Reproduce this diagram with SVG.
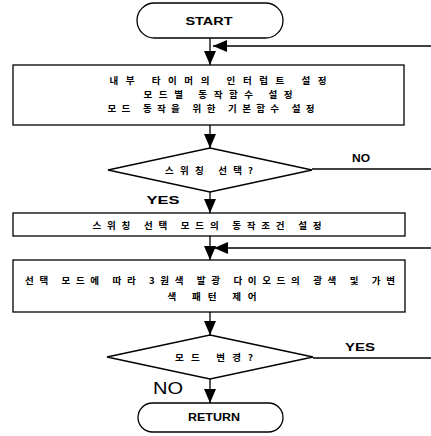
<svg xmlns="http://www.w3.org/2000/svg" width="431" height="436" viewBox="0 0 431 436">
<style>
.s{fill:#fff;stroke:#000;stroke-width:1.3}
.c{fill:none;stroke:#000;stroke-width:1.3}
.k{font-family:"Noto Sans CJK KR","Noto Sans",sans-serif;font-weight:bold;font-size:9.5px;fill:#000;text-anchor:middle;dominant-baseline:central}
.e{font-family:"Liberation Sans",Arial,sans-serif;font-weight:bold;font-size:10px;fill:#000;text-anchor:middle;dominant-baseline:central}
.n{font-family:"Liberation Sans",Arial,sans-serif;font-size:16px;fill:#000;text-anchor:middle;dominant-baseline:central}
</style>
<defs>
<marker id="ah" markerUnits="userSpaceOnUse" markerWidth="14" markerHeight="12" viewBox="0 0 14 12" refX="14" refY="6" orient="auto">
<path d="M0,0 L14,6 L0,12 Z" fill="#000"/>
</marker>
</defs>
<rect width="431" height="436" fill="#fff"/>
<g id="connectors">
<line class="c" x1="210" y1="38" x2="210" y2="65" marker-end="url(#ah)"/>
<line class="c" x1="431" y1="46" x2="213" y2="46" marker-end="url(#ah)"/>
<line class="c" x1="210" y1="125" x2="210" y2="148" marker-end="url(#ah)"/>
<line class="c" x1="312" y1="169" x2="431" y2="169"/>
<line class="c" x1="210" y1="192" x2="210" y2="213" marker-end="url(#ah)"/>
<line class="c" x1="210" y1="236" x2="210" y2="260" marker-end="url(#ah)"/>
<line class="c" x1="431" y1="248" x2="214" y2="248" marker-end="url(#ah)"/>
<line class="c" x1="210" y1="312" x2="210" y2="335" marker-end="url(#ah)"/>
<line class="c" x1="313" y1="358" x2="431" y2="358"/>
<line class="c" x1="210" y1="379" x2="210" y2="403" marker-end="url(#ah)"/>
<text class="e" x="163" y="200" textLength="33" lengthAdjust="spacingAndGlyphs">YES</text>
<text class="e" x="361" y="158" textLength="18" lengthAdjust="spacingAndGlyphs">NO</text>
<text class="e" x="360" y="347" textLength="30" lengthAdjust="spacingAndGlyphs">YES</text>
<text class="n" x="168" y="388" textLength="30" lengthAdjust="spacingAndGlyphs">NO</text>
</g>
<g id="start">
<rect class="s" x="137" y="3" width="146" height="35" rx="17.5"/>
<text class="e" x="209" y="21" textLength="47" lengthAdjust="spacingAndGlyphs">START</text>
</g>
<g id="init">
<rect class="s" x="13" y="65" width="391" height="60"/>
<text class="k" x="218" y="80" textLength="217" lengthAdjust="spacing">내부 타이머의 인터럽트 설정</text>
<text class="k" x="218" y="94" textLength="149" lengthAdjust="spacing">모드별 동작함수 설정</text>
<text class="k" x="211" y="108" textLength="207" lengthAdjust="spacing">모드 동작을 위한 기본함수 설정</text>
</g>
<g id="dec1">
<polygon class="s" points="210,148 312,170 210,192 108,170"/>
<text class="k" x="209" y="170" textLength="88" lengthAdjust="spacing">스위칭 선택?</text>
</g>
<g id="cond">
<rect class="s" x="13" y="213" width="392" height="23"/>
<text class="k" x="207" y="225" textLength="229" lengthAdjust="spacing">스위칭 선택 모드의 동작조건 설정</text>
</g>
<g id="ctrl">
<rect class="s" x="13" y="260" width="392" height="52"/>
<text class="k" x="210" y="280" textLength="370" lengthAdjust="spacing">선택 모드에 따라 3원색 발광 다이오드의 광색 및 가변</text>
<text class="k" x="212" y="296" textLength="89" lengthAdjust="spacing">색 패턴 제어</text>
</g>
<g id="dec2">
<polygon class="s" points="210,335 313,357 210,379 107,357"/>
<text class="k" x="214" y="357" textLength="78" lengthAdjust="spacing">모드 변경?</text>
</g>
<g id="return">
<rect class="s" x="138" y="403" width="145" height="29" rx="14.5"/>
<text class="e" x="214" y="417" textLength="52" lengthAdjust="spacingAndGlyphs">RETURN</text>
</g>
</svg>
